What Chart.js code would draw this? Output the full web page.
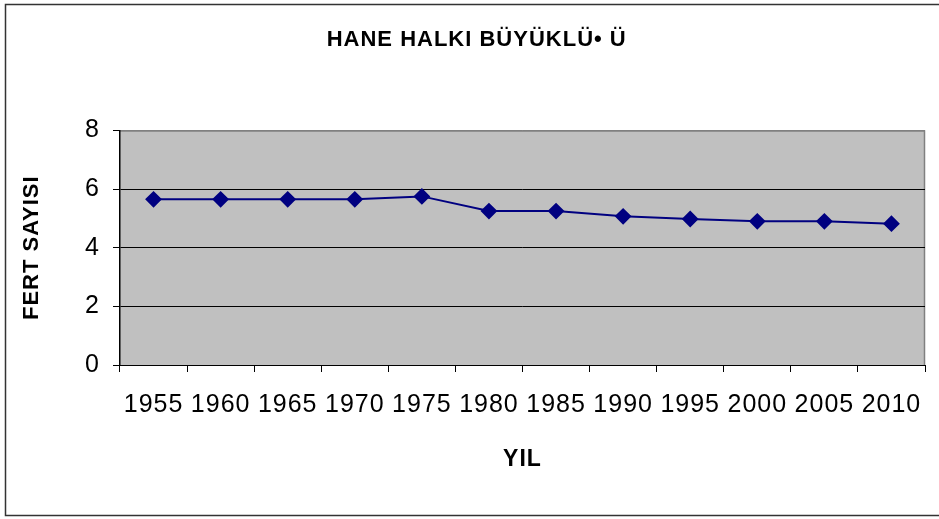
<!DOCTYPE html>
<html>
<head>
<meta charset="utf-8">
<script src="https://cdn.jsdelivr.net/npm/chart.js@4"></script>
<style>
  html, body { margin: 0; padding: 0; background: #fff; }
  #wrap { width: 939px; height: 519px; position: relative; }
</style>
</head>
<body>
<div id="wrap"><canvas id="haneChart"></canvas></div>
<script>
// Yillar ve fert sayisi
const yillar = ['1955', '1960', '1965', '1970', '1975', '1980', '1985', '1990', '1995', '2000', '2005', '2010'];
const fertSayisi = [5.65, 5.65, 5.65, 5.65, 5.75, 5.25, 5.25, 5.07, 4.98, 4.9, 4.9, 4.82];
const baslik = '    HANE HALKI BÜYÜKLÜ• Ü';
const yEksenBaslik = 'FERT SAYISI';
const xEksenBaslik = 'YIL';

const fontAile = "'Liberation Sans', Arial, sans-serif";

// Arka plan, cerceve ve gri cizim alani
const arkaPlan = {
    id: 'arkaPlan',
    beforeDraw(chart) {
        const ctx = chart.ctx;
        const a = chart.chartArea;
        ctx.save();
        ctx.fillStyle = '#fff';
        ctx.fillRect(0, 0, chart.width, chart.height);
        ctx.strokeStyle = '#333';
        ctx.lineWidth = 1.5;
        ctx.strokeRect(5.5, 4.5, 950, 511);
        ctx.fillStyle = '#c0c0c0';
        ctx.fillRect(a.left, a.top, a.right - a.left, a.bottom - a.top);
        ctx.strokeStyle = '#808080';
        ctx.lineWidth = 1.5;
        ctx.beginPath();
        ctx.moveTo(a.left, a.top + 0.5);
        ctx.lineTo(a.right - 0.5, a.top + 0.5);
        ctx.lineTo(a.right - 0.5, a.bottom);
        ctx.stroke();
        ctx.restore();
        ctx.letterSpacing = '1px';
    }
};

const config = {
    type: 'line',
    data: {
        labels: yillar,
        datasets: [{
            label: 'Fert sayisi',
            data: fertSayisi,
            borderColor: '#000080',
            backgroundColor: '#000080',
            borderWidth: 2,
            pointStyle: 'rectRot',
            pointRadius: 7,
            pointHoverRadius: 7,
            tension: 0
        }]
    },
    options: {
        responsive: true,
        maintainAspectRatio: false,
        animation: false,
        layout: { padding: { left: 0, right: 14, top: 0, bottom: 0 } },
        plugins: {
            legend: { display: false },
            tooltip: { enabled: false },
            title: {
                display: true,
                text: baslik,
                color: '#000',
                font: { family: fontAile, size: 22, weight: 'bold' },
                padding: { top: 27, bottom: 77 }
            }
        },
        scales: {
            x: {
                offset: true,
                grid: {
                    offset: true,
                    drawOnChartArea: false,
                    color: '#000',
                    tickLength: 7,
                    tickColor: '#000'
                },
                border: { color: '#000', width: 1 },
                ticks: {
                    color: '#000',
                    font: { family: fontAile, size: 25 },
                    padding: 18,
                    maxRotation: 0,
                    autoSkip: false
                },
                title: {
                    display: true,
                    text: xEksenBaslik,
                    color: '#000',
                    font: { family: fontAile, size: 23, weight: 'bold' },
                    padding: { top: 0, bottom: 46 }
                },
                afterFit(scale) { scale.height = 154; }
            },
            y: {
                min: 0,
                max: 8,
                grid: {
                    color: (c) => c.tick && c.tick.value === 8 ? '#808080' : '#000',
                    tickColor: '#000',
                    tickLength: 7,
                    lineWidth: 1
                },
                border: { color: '#000', width: 1.5 },
                ticks: {
                    stepSize: 2,
                    color: '#000',
                    font: { family: fontAile, size: 25 },
                    padding: 13
                },
                title: {
                    display: true,
                    text: yEksenBaslik,
                    color: '#000',
                    font: { family: fontAile, size: 22, weight: 'bold' },
                    padding: { top: 19, bottom: 0 }
                },
                afterFit(scale) { scale.width = 120; }
            }
        }
    },
    plugins: [arkaPlan]
};

const haneChart = new Chart(document.getElementById('haneChart'), config);
</script>
</body>
</html>
